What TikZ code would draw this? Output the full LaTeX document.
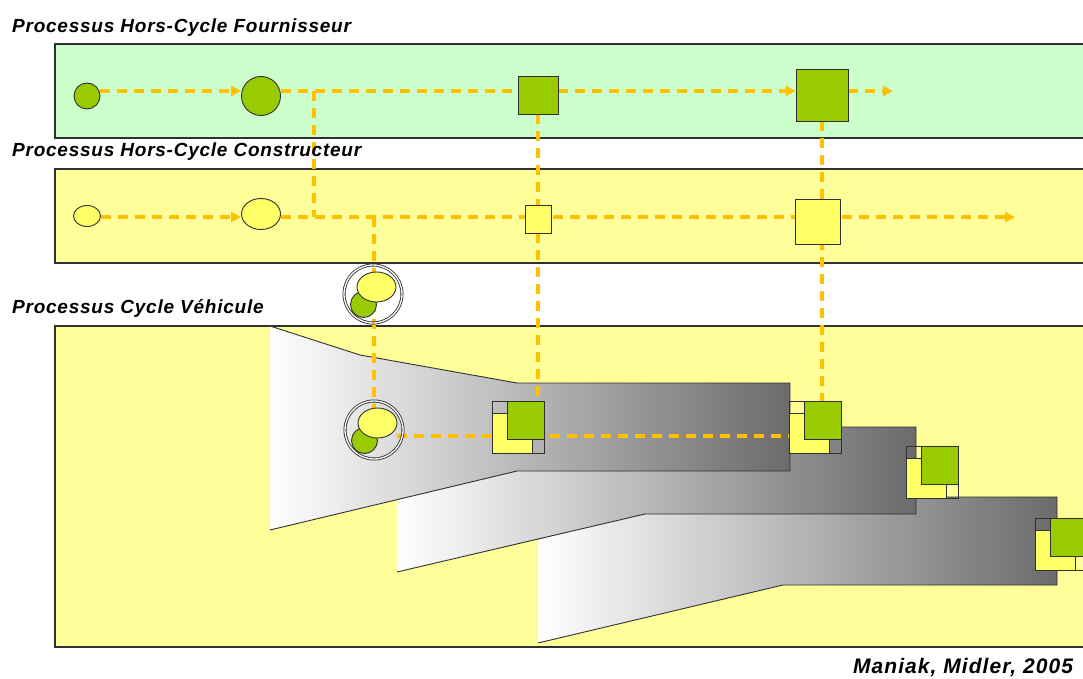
\documentclass[tikz,border=0pt]{standalone}
\usepackage{fontspec}
\setmainfont{Liberation Sans}
\usetikzlibrary{arrows.meta,shapes.geometric}
\pgfdeclarelayer{back}
\pgfdeclarelayer{mid}
\pgfsetlayers{back,mid,main}
\definecolor{bandgreen}{HTML}{CCFFCC}
\definecolor{bandyellow}{HTML}{FFFF99}
\definecolor{greenf}{HTML}{99CC00}
\definecolor{yellowf}{HTML}{FFFF66}
\definecolor{dashc}{HTML}{FFC000}
\definecolor{edge}{HTML}{303030}
\definecolor{boxgray}{HTML}{6B6B6B}
\newfontfamily\lblfont[LetterSpace=4]{Liberation Sans}
\newfontfamily\credfont[LetterSpace=5]{Liberation Sans}
\tikzset{
  band/.style={draw=edge, line width=1.2pt},
  lbl/.style={anchor=base west, inner sep=0pt, font=\lblfont\fontsize{19}{22}\selectfont\bfseries\itshape},
  flow/.style={draw=dashc, line width=3.2pt, dash pattern=on 10pt off 7pt},
  arrowed/.style={-{Triangle[length=10pt,width=10pt]}},
  shp/.style={draw=edge, line width=0.9pt, inner sep=0pt},
  grn/.style={shp, fill=greenf},
  ylw/.style={shp, fill=yellowf},
  funnel/.style={draw=edge, line width=0.9pt},
  pics/grp/.style={code={
    \fill[yellowf, draw=edge, line width=0.9pt] (0,12) rectangle (40,52);
    \fill[greenf, draw=edge, line width=0.9pt] (15,0) rectangle (52,38);
    \node[shp, rectangle, minimum size=52pt, anchor=north west] (-box) at (0,0) {};
  }},
  pics/combo/.style={code={
    \node[draw=edge, line width=0.85pt, double=white, double distance=1.3pt, circle, minimum size=58pt, inner sep=0pt] (-ring) at (0,0) {};
    \node[grn, circle, minimum size=26pt] (-g) at (-9.5,10.5) {};
    \node[ylw, ellipse, minimum width=39pt, minimum height=30pt] (-y) at (3.5,-7) {};
  }}
}
\begin{document}
\begin{tikzpicture}[x=1pt,y=-1pt]
\useasboundingbox (0,0) rectangle (1083,679);

\begin{pgfonlayer}{back}
  \fill[white] (0,0) rectangle (1083,679);
  \filldraw[band, fill=bandgreen] (55,44) rectangle (1100,138);
  \filldraw[band, fill=bandyellow] (55,169) rectangle (1100,263);
  \filldraw[band, fill=bandyellow] (55,326) rectangle (1100,647);
  % funnel 3
  \shade[left color=white, right color=boxgray] (538,539) -- (645,511) -- (800,497) -- (1057,497) -- (1057,585) -- (783,585) -- (538,643) -- cycle;
  \draw[funnel] (538,539) -- (645,511) -- (800,497) -- (1057,497) -- (1057,585) -- (783,585) -- (538,643);
  % funnel 2
  \shade[left color=white, right color=boxgray] (397,499) -- (517,469) -- (700,427) -- (916,427) -- (916,514) -- (645,514) -- (397,572) -- cycle;
  \draw[funnel] (397,499) -- (517,469) -- (700,427) -- (916,427) -- (916,514) -- (645,514) -- (397,572);
  % funnel 1
  \shade[left color=white, right color=boxgray] (270,326) -- (360,355) -- (517,383) -- (790,383) -- (790,471) -- (517,471) -- (270,530) -- cycle;
  \draw[funnel] (270,326) -- (360,355) -- (517,383) -- (790,383) -- (790,471) -- (517,471) -- (270,530);
\end{pgfonlayer}

% labels
\node[lbl] (t1) at (12,33) {Processus Hors-Cycle Fournisseur};
\node[lbl] (t2) at (12,157) {Processus Hors-Cycle Constructeur};
\node[lbl] (t3) at (12,313) {Processus Cycle Véhicule};
\node[anchor=base west, inner sep=0pt, font=\credfont\fontsize{21}{24}\selectfont\bfseries\itshape] (t4) at (853,673) {Maniak, Midler, 2005};

% row 1
\node[grn, circle, minimum size=26pt] (c1) at (87,96) {};
\node[grn, circle, minimum size=39pt] (c2) at (261,96) {};
\node[grn, rectangle, minimum width=40pt, minimum height=38pt] (s1) at (538,95) {};
\node[grn, rectangle, minimum size=52pt] (s2) at (822,95) {};
% row 2
\node[ylw, ellipse, minimum width=27pt, minimum height=21pt] (e1) at (87,216) {};
\node[ylw, ellipse, minimum width=39pt, minimum height=31pt] (e2) at (261,214) {};
\node[ylw, rectangle, minimum width=26pt, minimum height=28pt] (s3) at (538,219) {};
\node[ylw, rectangle, minimum size=45pt] (s4) at (818,222) {};
% combos
\pic (k1) at (373,294) {combo};
\pic (k2) at (374,430) {combo};
% groups
\pic (g1) at (492,401) {grp};
\pic (g2) at (789,401) {grp};
\pic (g3) at (906,446) {grp};
\pic (g4) at (1035,518) {grp};

\coordinate (r1) at (0,91);
\coordinate (r2) at (0,217);
\coordinate (r3) at (0,436);
\coordinate (end1) at (893,91);
\coordinate (end2) at (1015,217);
\coordinate (j1) at (314,91);
\coordinate (j2) at (314,217);
\coordinate (j3) at (374,217);

\begin{pgfonlayer}{mid}
  \draw[flow, arrowed] (c1.east |- r1) -- (c2.west |- r1);
  \draw[flow] (c2.east |- r1) -- (s1.west |- r1);
  \draw[flow, arrowed] (s1.east |- r1) -- (s2.west |- r1);
  \draw[flow, arrowed] (s2.east |- r1) -- (end1);
  \draw[flow] (j1) -- (j2);
  \draw[flow, arrowed] (e1.east |- r2) -- (e2.west |- r2);
  \draw[flow, arrowed] (e2.east |- r2) -- (end2);
  \draw[flow] (j3) -- (j3 |- k2-y.center);
  \draw[flow] (s1.south) -- (s1.south |- g1-box.north);
  \draw[flow] (s2.south) -- (s2.south |- g2-box.north);
  \draw[flow] (k2-y.east |- r3) -- (g2-box.west |- r3);
\end{pgfonlayer}
\end{tikzpicture}
\end{document}
